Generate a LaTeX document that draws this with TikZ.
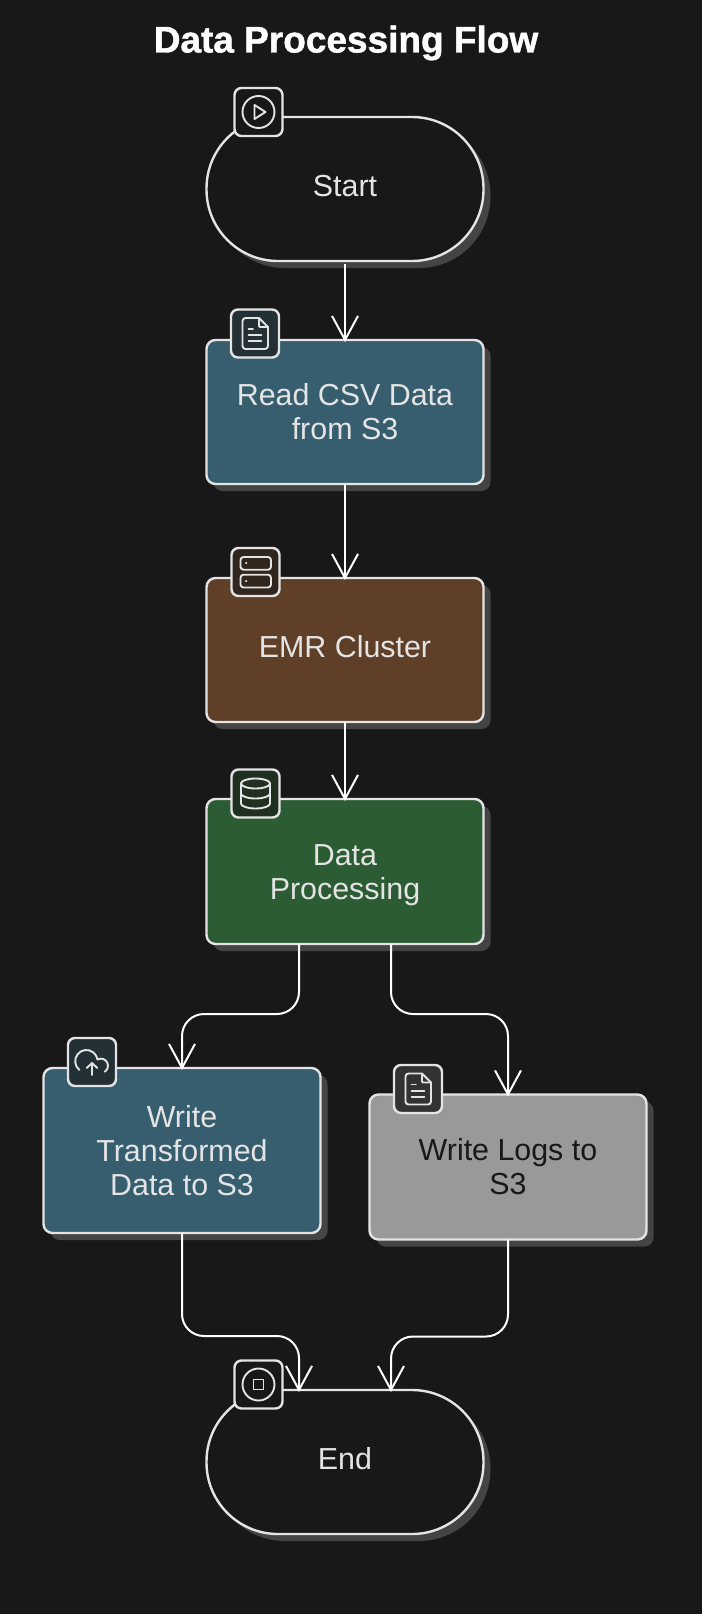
\documentclass[tikz,border=0pt]{standalone}
\usepackage{fontspec}
\setmainfont{Liberation Sans}[BoldFeatures={FakeBold=1.2}]
\usetikzlibrary{arrows.meta,shadows}

\definecolor{pagebg}{HTML}{181818}
\definecolor{shadowgray}{HTML}{444444}
\definecolor{linegray}{HTML}{E4E4E4}
\definecolor{readblue}{HTML}{365E6E}
\definecolor{emrbrown}{HTML}{5F3F28}
\definecolor{procgreen}{HTML}{2C5C33}
\definecolor{logsgray}{HTML}{999999}
\definecolor{darktext}{HTML}{181818}

\tikzset{
  flowbox/.style={draw=linegray,line width=2.4pt,rounded corners=9pt,outer sep=0pt,inner sep=0pt,
    minimum width=277pt,minimum height=144pt,align=center,text=linegray,
    font=\fontsize{30.4}{34}\selectfont,
    drop shadow={shadow xshift=7pt,shadow yshift=-7pt,fill=shadowgray,opacity=1}},
  terminal/.style={flowbox,rounded corners=71.5pt,fill=pagebg},
  oneline/.style={text height=21.5pt,text depth=6.3pt},
  iconbox/.style={draw=linegray,line width=2.4pt,rounded corners=7pt,outer sep=0pt,inner sep=0pt,
    minimum size=48pt},
  glyph/.style={draw=linegray,line width=1.9pt,line cap=round,line join=round},
  edgeline/.style={draw=white,line width=2pt,shorten >=-2pt,-{Straight Barb[length=24pt,width=26pt,line width=2pt]}},
  bendline/.style={edgeline,rounded corners=22pt},
  pics/playicon/.style={code={
    \draw[glyph] (0,0) circle[radius=16pt];
    \draw[glyph] (-4,-7)--(7,0)--(-4,7)--cycle;}},
  pics/stopicon/.style={code={
    \draw[glyph] (0,0) circle[radius=16pt];
    \draw[glyph] (-5,-5) rectangle (5,5);}},
  pics/fileicon/.style={code={
    \draw[glyph,rounded corners=3pt] (4,-15.5)--(-12.5,-15.5)--(-12.5,15.5)--(13,15.5)--(13,-6.5);
    \draw[glyph] (4,-15.5)--(13,-6.5);
    \draw[glyph,rounded corners=1pt] (4,-15.5)--(4,-6.5)--(13,-6.5);
    \draw[glyph] (-6.5,-4.5)--(-2,-4.5);
    \draw[glyph] (-6.5,1.7)--(6.5,1.7);
    \draw[glyph] (-6.5,7.7)--(6.5,7.7);}},
  pics/servericon/.style={code={
    \draw[glyph,rounded corners=3pt] (-15,-15) rectangle (15.5,-2.3);
    \draw[glyph,rounded corners=3pt] (-15,2.7) rectangle (15.5,15.5);
    \fill[linegray] (-9.3,-9) circle[radius=1.2pt];
    \fill[linegray] (-9.3,9) circle[radius=1.2pt];}},
  pics/dbicon/.style={code={
    \draw[glyph] (0,-10) ellipse[x radius=14.5pt,y radius=5pt];
    \draw[glyph] (-14.5,-10)--(-14.5,10) arc[start angle=180,end angle=360,x radius=14.5pt,y radius=5pt]--(14.5,-10);
    \draw[glyph] (-14.5,0) arc[start angle=180,end angle=360,x radius=14.5pt,y radius=5pt];}},
  pics/uploadicon/.style={code={
    \draw[glyph] (-12.5,8) arc[start angle=232,end angle=8.5,radius=11.2pt]--(8.8,-3.4)
      arc[start angle=90,end angle=-56,radius=7.2pt];
    \draw[glyph] (0,13)--(0,1);
    \draw[glyph] (-5.3,6)--(0,1)--(5.3,6);}},
}

\begin{document}
\begin{tikzpicture}[x=1pt,y=-1pt]
\fill[pagebg] (0,0) rectangle (702,1614);
\useasboundingbox (0,0) rectangle (702,1614);

\node[text=white,font=\fontsize{37}{40}\selectfont\bfseries] (title) at (346,43) {Data Processing Flow};

\node[terminal,oneline] (start) at (345,189) {Start};
\node[flowbox,fill=readblue] (read) at (345,412) {Read CSV Data\\from S3};
\node[flowbox,oneline,fill=emrbrown] (emr) at (345,650) {EMR Cluster};
\node[flowbox,fill=procgreen,minimum height=145pt,text height=61.5pt] (process) at (345,871.5) {Data\\Processing};
\node[flowbox,fill=readblue,minimum height=165pt] (transformed) at (182,1150.5) {Write\\Transformed\\Data to S3};
\node[flowbox,fill=logsgray,text=darktext,minimum height=145pt] (logs) at (508,1167) {Write Logs to\\S3};
\node[terminal,oneline] (finish) at (345,1462) {End};

\node[iconbox,fill=pagebg] (starticon) at (258.5,112) {};
\node[iconbox,fill=readblue!35!pagebg] (readicon) at (255,333.5) {};
\node[iconbox,fill=emrbrown!35!pagebg] (emricon) at (255.5,572) {};
\node[iconbox,fill=procgreen!35!pagebg] (processicon) at (255.5,793.5) {};
\node[iconbox,fill=readblue!35!pagebg] (transformedicon) at (92,1062) {};
\node[iconbox,fill=logsgray!20!pagebg] (logsicon) at (418,1089) {};
\node[iconbox,fill=pagebg] (finishicon) at (258.5,1384.5) {};

\pic at (starticon) {playicon};
\pic at (readicon) {fileicon};
\pic at (emricon) {servericon};
\pic at (processicon) {dbicon};
\pic at (transformedicon) {uploadicon};
\pic at (logsicon) {fileicon};
\pic at (finishicon) {stopicon};

\draw[edgeline,shorten <=3pt] (start.south)--(read.north);
\draw[edgeline] (read.south)--(emr.north);
\draw[edgeline] (emr.south)--(process.north);
\draw[bendline] ([xshift=-46pt]process.south)--++(0,70)-|(transformed.north);
\draw[bendline] ([xshift=46pt]process.south)--++(0,70)-|(logs.north);
\draw[bendline] (transformed.south)--++(0,103)-|([xshift=-46pt]finish.north);
\draw[bendline] (logs.south)--++(0,97)-|([xshift=46pt]finish.north);
\end{tikzpicture}
\end{document}
